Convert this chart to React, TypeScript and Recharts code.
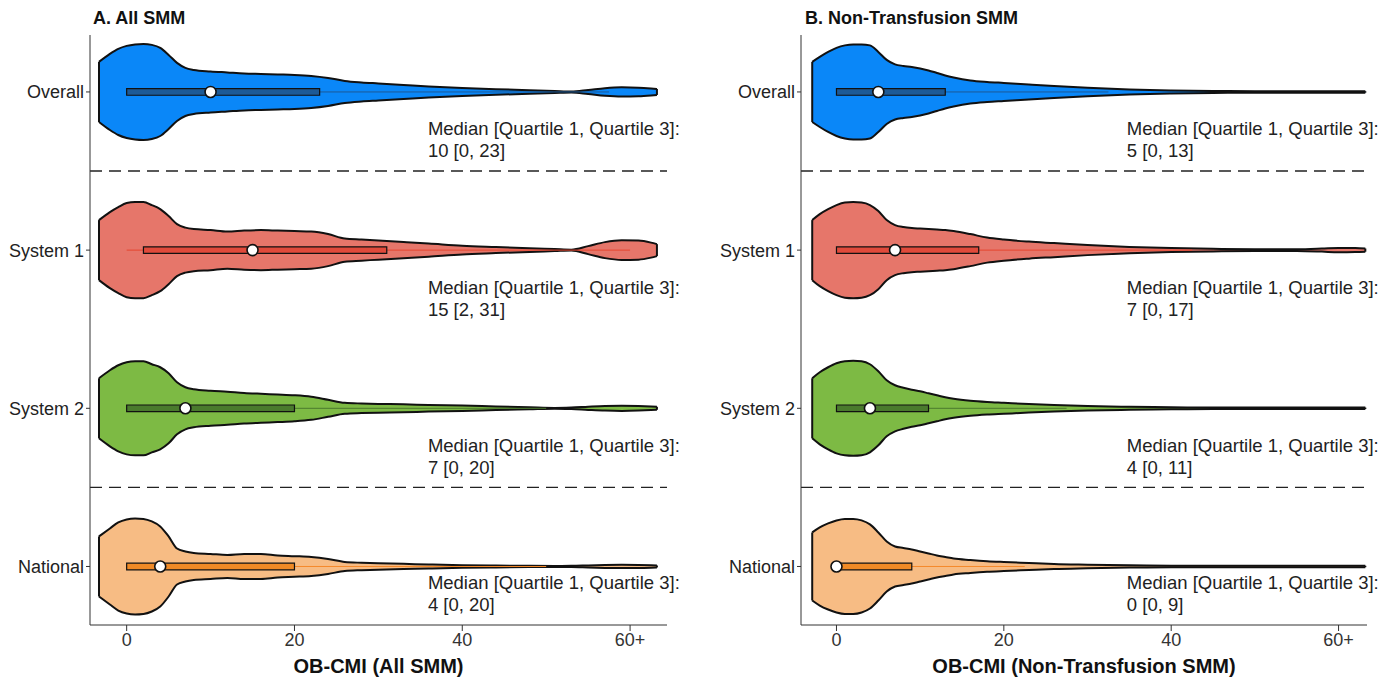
import React from 'react'
import { Area, ComposedChart, ReferenceArea, ReferenceDot, ReferenceLine, XAxis, YAxis } from 'recharts'

// groups, top to bottom
const GROUPS = ['Overall', 'System 1', 'System 2', 'National']
const KEYS = ['overall', 'sys1', 'sys2', 'national']

const FILLS = ['#0A87F8', '#E6766A', '#7DBA44', '#F7BC84']
const BOX_FILLS = ['#1D5A96', '#E04A3B', '#4A7A2D', '#F08A26']
const WHISKER_COLORS = ['#1D5A96', '#E5452F', '#4A7A2D', '#F5892A']

// Panel A: All SMM — violin half-widths (relative density) at each OB-CMI value
const gridA = [-3.3, -2, -1, 0, 1, 2, 3, 4, 5, 6, 7, 8, 10, 12, 14, 16, 18, 20, 22, 24, 26, 28, 30, 33, 36, 40, 44, 48, 51, 53, 55, 57, 59, 61, 62.5, 63.2]
const overallA = [30, 38, 43, 46, 47.5, 48, 47, 44, 37, 29, 24, 22, 20.5, 19.5, 18.5, 18, 17.5, 17, 16, 14, 11, 9.5, 8.5, 7, 5.5, 4, 2.8, 1.8, 1, 0.5, 2, 3.8, 4.6, 4.3, 3.5, 3]
const system1A = [30, 38, 43, 47, 48, 48, 45, 41, 34, 26, 22.5, 21, 20, 18.5, 19.5, 20, 19.5, 19, 18.5, 16, 11.5, 10.5, 9.5, 8, 6.5, 4.3, 3, 1.8, 1, 0.4, 4, 8, 9.8, 9.5, 7.5, 6]
const system2A = [30, 38, 43, 46, 47, 47, 44, 41, 35, 26, 21, 19, 17.5, 16.5, 15.3, 14.5, 13.8, 13, 11.5, 8.5, 5.5, 4.8, 4.4, 4, 3.3, 2.7, 1.8, 1, 0.4, 0.8, 1.6, 2.3, 2.6, 2.3, 1.8, 1.5]
const nationalA = [30, 38, 44, 47, 48, 47.5, 45, 40, 30, 18, 15, 13.5, 12.5, 11.5, 12.5, 12.5, 11, 10.3, 9.5, 7.5, 4.5, 3.7, 3.2, 2.6, 2, 1.3, 0.9, 0.6, 0.5, 0.6, 1, 1.4, 1.6, 1.5, 1.2, 1]
const mediansA = [10, 15, 7, 4]
const q1A = [0, 2, 0, 0]
const q3A = [23, 31, 20, 20]
const whiskerHiA = [57.5, 60, 50, 50]

// Panel B: Non-Transfusion SMM
const gridB = [-2.9, -2, -1, 0, 1, 2, 3, 4, 5, 6, 7, 8, 9, 10, 11, 12, 13, 14, 16, 18, 20, 23, 26, 30, 35, 40, 45, 50, 55, 58, 60, 62, 63.2]
const overallB = [30, 35, 40, 44, 46.5, 47.5, 47.5, 46.5, 40, 32, 27.5, 26, 25, 23.5, 21.5, 19, 16.5, 14.5, 11.5, 10, 9, 7.5, 6, 4.2, 2.5, 1.5, 1, 0.8, 0.7, 0.7, 0.7, 0.7, 0.7]
const system1B = [30, 36, 41, 45, 47.5, 48, 47.5, 45, 39, 30, 25, 23, 22, 21.5, 21, 20.5, 20, 19, 16, 12.5, 10.5, 8.5, 7, 5, 3.2, 2, 1.3, 0.9, 0.8, 1.5, 2.2, 2, 1.6]
const system2B = [30, 36, 41, 45, 47, 47.5, 47, 44, 37, 28, 23, 20.5, 18.5, 17, 15, 13, 11, 9.5, 7.5, 6.3, 5.5, 4.3, 3.3, 2.3, 1.5, 1, 0.8, 0.7, 0.7, 0.7, 0.8, 0.8, 0.7]
const nationalB = [34, 39, 43, 46, 47.5, 47.5, 46, 42, 34, 25, 20, 18.5, 17, 15, 13, 11, 9.5, 8, 6.5, 5.3, 4.5, 3.5, 2.5, 1.8, 1.1, 0.8, 0.7, 0.7, 0.7, 0.7, 0.7, 0.7, 0.7]
const mediansB = [5, 7, 4, 0]
const q1B = [0, 0, 0, 0]
const q3B = [13, 17, 11, 9]
const whiskerHiB = [32.5, 42.5, 27.5, 22.5]

const X_TICKS = [0, 20, 40, 60]

// relative density -> y units (one row = 1)
const HALF = 1 / 158
const BOX_HALF = 0.021
const LABEL_DY = [0.228, 0.234, 0.234, 0.1]
const FONT = '"Liberation Sans", Arial, Helvetica, sans-serif'

interface PanelProps {
  title: string
  xLabel: string
  grid: number[]
  widths: number[][]
  medians: number[]
  q1: number[]
  q3: number[]
  whiskerHi: number[]
  xDomain: [number, number]
  yAxisWidth: number
  marginRight: number
  labelX: number
  titleLeft: number
}

function Panel(p: PanelProps) {
  const data = p.grid.map((v, i) => {
    const row: any = { v }
    p.widths.forEach((w, g) => {
      row[KEYS[g]] = [g + 1 - w[i] * HALF, g + 1 + w[i] * HALF]
    })
    return row
  })
  const last = p.grid.length - 1

  return (
    <div style={{ position: 'relative', width: 695, height: 677 }}>
      <div style={{ position: 'absolute', left: p.titleLeft, top: 7, fontWeight: 'bold', fontSize: 18, lineHeight: '22px', color: '#111' }}>
        {p.title}
      </div>
      <ComposedChart width={695} height={677} data={data} margin={{ top: 35, right: p.marginRight, bottom: 0, left: 0 }}>
        <XAxis
          type="number"
          dataKey="v"
          domain={p.xDomain}
          allowDataOverflow
          ticks={X_TICKS}
          tickFormatter={(t: number) => (t === 60 ? '60+' : String(t))}
          height={52}
          tickSize={6}
          tickMargin={2}
          tick={{ fontSize: 18, fill: '#333' }}
          stroke="#333"
          label={{ value: p.xLabel, position: 'insideBottom', offset: 4, fontSize: 20, fontWeight: 'bold', fill: '#111' }}
        />
        <YAxis
          type="number"
          domain={[0.64, 4.37]}
          allowDataOverflow
          reversed
          ticks={[1, 2, 3, 4]}
          interval={0}
          tickFormatter={(t: number) => GROUPS[t - 1]}
          width={p.yAxisWidth}
          tickSize={4}
          tickMargin={2}
          tick={{ fontSize: 18, fill: '#222' }}
          stroke="#333"
        />
        <ReferenceLine y={1.5} stroke="#222" strokeWidth={1.4} strokeDasharray="12 7" />
        <ReferenceLine y={3.5} stroke="#222" strokeWidth={1.4} strokeDasharray="12 7" />
        {KEYS.map((k, g) => (
          <Area
            key={k}
            dataKey={k}
            type="monotone"
            fill={FILLS[g]}
            fillOpacity={1}
            stroke="#111"
            strokeWidth={2}
            dot={false}
            activeDot={false}
            isAnimationActive={false}
            zIndex={100}
          />
        ))}
        {p.widths.map((w, g) => (
          <ReferenceLine
            key={`le-${g}`}
            segment={[{ x: p.grid[0], y: g + 1 - w[0] * HALF }, { x: p.grid[0], y: g + 1 + w[0] * HALF }]}
            stroke="#111"
            strokeWidth={2}
            zIndex={150}
          />
        ))}
        {p.widths.map((w, g) => (
          <ReferenceLine
            key={`re-${g}`}
            segment={[{ x: p.grid[last], y: g + 1 - w[last] * HALF }, { x: p.grid[last], y: g + 1 + w[last] * HALF }]}
            stroke="#111"
            strokeWidth={2}
            zIndex={150}
          />
        ))}
        {GROUPS.map((name, g) => (
          <ReferenceLine
            key={`wh-${name}`}
            segment={[{ x: 0, y: g + 1 }, { x: p.whiskerHi[g], y: g + 1 }]}
            stroke={WHISKER_COLORS[g]}
            strokeWidth={1}
            zIndex={200}
          />
        ))}
        {GROUPS.map((name, g) => (
          <ReferenceArea
            key={`box-${name}`}
            x1={p.q1[g]}
            x2={p.q3[g]}
            y1={g + 1 - BOX_HALF}
            y2={g + 1 + BOX_HALF}
            fill={BOX_FILLS[g]}
            fillOpacity={1}
            stroke="#111"
            strokeWidth={1.2}
            strokeOpacity={1}
            zIndex={300}
          />
        ))}
        {GROUPS.map((name, g) => (
          <ReferenceDot
            key={`med-${name}`}
            x={p.medians[g]}
            y={g + 1}
            r={5.5}
            fill="#fff"
            stroke="#111"
            strokeWidth={1.6}
            zIndex={400}
          />
        ))}
        {GROUPS.map((name, g) => (
          <ReferenceDot
            key={`lab-${name}`}
            x={p.labelX}
            y={g + 1 + LABEL_DY[g]}
            r={0}
            fill="none"
            stroke="none"
            zIndex={500}
            label={{
              content: (lp: any) => {
                const vb = lp.viewBox || {}
                return (
                  <g>
                    <text x={vb.x} y={vb.y} dominantBaseline="central" fontSize={18.5} fill="#222" fontFamily={FONT}>
                      Median [Quartile 1, Quartile 3]:
                    </text>
                    <text x={vb.x} y={vb.y + 22.5} dominantBaseline="central" fontSize={18.5} fill="#222" fontFamily={FONT}>
                      {`${p.medians[g]} [${p.q1[g]}, ${p.q3[g]}]`}
                    </text>
                  </g>
                )
              },
            }}
          />
        ))}
      </ComposedChart>
    </div>
  )
}

export default function App() {
  return (
    <div style={{ display: 'flex', width: 1390, height: 677, fontFamily: FONT, background: '#fff' }}>
      <style>{'body{margin:0}'}</style>
      <Panel
        title="A. All SMM"
        xLabel="OB-CMI (All SMM)"
        grid={gridA}
        widths={[overallA, system1A, system2A, nationalA]}
        medians={mediansA}
        q1={q1A}
        q3={q3A}
        whiskerHi={whiskerHiA}
        xDomain={[-4.37, 64.4]}
        yAxisWidth={90}
        marginRight={28}
        labelX={35.9}
        titleLeft={93}
      />
      <Panel
        title="B. Non-Transfusion SMM"
        xLabel="OB-CMI (Non-Transfusion SMM)"
        grid={gridB}
        widths={[overallB, system1B, system2B, nationalB]}
        medians={mediansB}
        q1={q1B}
        q3={q3B}
        whiskerHi={whiskerHiB}
        xDomain={[-4.24, 63.4]}
        yAxisWidth={106}
        marginRight={23}
        labelX={34.7}
        titleLeft={110}
      />
    </div>
  )
}
